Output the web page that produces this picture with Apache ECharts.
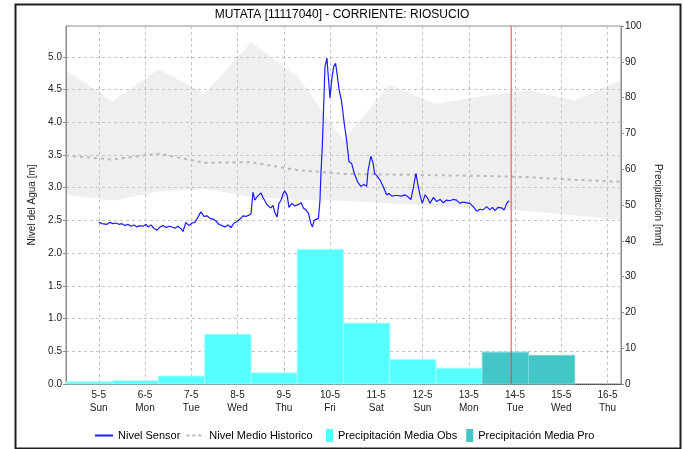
<!DOCTYPE html>
<html>
<head>
<meta charset="utf-8">
<script src="https://cdn.jsdelivr.net/npm/echarts@6/dist/echarts.min.js"></script>
<style>
  html, body { margin: 0; padding: 0; background: #fff; }
  #chart { width: 684px; height: 449px; }
</style>
</head>
<body>
<div id="chart"></div>
<script>
// Station
const stationTitle = 'MUTATA [11117040] - CORRIENTE: RIOSUCIO';

// Water level from the sensor: hours after 2024-05-05 00:00 and level [m]
const sensorHours = [
  0, 1.7, 2.7, 4.3, 5.8, 7.4, 8.9, 10.5, 12.0, 13.6, 15.2, 16.7, 18.3, 19.8, 21.4, 23.0,
  24.5, 25.5, 27.1, 28.6, 30.2, 31.8, 33.3, 34.9, 36.4, 38.0, 39.5, 41.1, 42.7, 43.7, 45.2, 46.8,
  48.4, 49.9, 51.5, 53.0, 54.6, 56.2, 57.7, 59.3, 60.8, 62.4, 63.9, 65.5, 67.0, 68.6, 70.2, 71.7,
  73.3, 74.8, 76.4, 77.9, 79.0, 80.0, 81.0, 82.1, 83.1, 84.2, 85.2, 86.2, 87.3, 88.3, 89.3, 90.4,
  91.4, 92.5, 93.5, 94.5, 95.6, 96.4, 97.7, 98.7, 100.3, 101.8, 103.4, 105.0, 106.2, 107.5, 108.8, 110.1,
  110.9, 111.7, 112.7, 114.0, 114.8, 115.3, 116.0, 116.7, 117.4, 118.4, 119.1, 120.0, 120.9, 121.9, 122.9, 123.6,
  124.6, 126.0, 127.4, 128.6, 129.8, 131.2, 132.6, 134.3, 136.0, 137.6, 139.0, 139.8, 141.2, 142.4, 143.1, 144.4,
  145.9, 147.5, 149.4, 150.6, 152.1, 153.7, 155.3, 156.8, 158.9, 160.4, 162.0, 163.2, 164.6, 165.5, 166.7, 167.9,
  169.3, 170.7, 171.9, 173.6, 175.3, 177.1, 178.8, 180.5, 182.2, 183.8, 185.7, 187.4, 189.0, 190.5, 192.6, 194.3,
  196.1, 197.8, 199.4, 201.3, 203.0, 204.3, 205.6, 207.1, 209.1, 210.4, 211.7, 212.9
];
const sensorLevel = [
  2.47, 2.45, 2.48, 2.44, 2.47, 2.45, 2.46, 2.44, 2.45, 2.42, 2.44, 2.41, 2.43, 2.40, 2.42, 2.41,
  2.44, 2.40, 2.43, 2.38, 2.35, 2.40, 2.42, 2.39, 2.41, 2.40, 2.38, 2.41, 2.37, 2.33, 2.47, 2.42,
  2.46, 2.47, 2.55, 2.63, 2.56, 2.57, 2.53, 2.52, 2.49, 2.44, 2.42, 2.40, 2.43, 2.39, 2.46, 2.48,
  2.52, 2.57, 2.56, 2.58, 2.60, 2.93, 2.81, 2.86, 2.84, 2.92, 2.85, 2.80, 2.74, 2.71, 2.69, 2.73,
  2.62, 2.55, 2.76, 2.80, 2.90, 2.95, 2.89, 2.70, 2.76, 2.72, 2.74, 2.77, 2.69, 2.66, 2.61, 2.45,
  2.40, 2.50, 2.51, 2.53, 2.81, 3.22, 3.63, 4.24, 4.85, 4.98, 4.70, 4.37, 4.65, 4.85, 4.90, 4.75,
  4.52, 4.32, 3.98, 3.73, 3.40, 3.37, 3.22, 3.09, 3.02, 3.05, 3.02, 3.27, 3.48, 3.37, 3.22, 3.18,
  3.12, 3.02, 2.89, 2.91, 2.87, 2.88, 2.88, 2.87, 2.89, 2.86, 2.82, 2.99, 3.22, 3.06, 2.89, 2.76,
  2.89, 2.84, 2.76, 2.85, 2.79, 2.82, 2.77, 2.81, 2.80, 2.82, 2.81, 2.76, 2.78, 2.77, 2.76, 2.71,
  2.64, 2.67, 2.66, 2.71, 2.66, 2.70, 2.65, 2.70, 2.69, 2.66, 2.76, 2.80
];

// Historic statistics, one value per day at 07:00 (day of May)
const histDay   = [4, 5, 6, 7, 8, 9, 10, 11, 12, 13, 14, 15, 16];
const histUpper = [4.80, 4.32, 4.81, 4.44, 5.22, 4.70, 3.73, 4.57, 4.28, 4.40, 4.49, 4.33, 4.65];
const histLower = [2.89, 2.80, 2.94, 2.98, 2.86, 2.81, 2.80, 2.76, 2.72, 2.68, 2.64, 2.58, 2.51];
const histMean  = [3.49, 3.43, 3.52, 3.38, 3.39, 3.27, 3.21, 3.20, 3.19, 3.18, 3.16, 3.12, 3.09];

// Daily rainfall [mm], accumulated from 07:00 of the given day of May to 07:00 the next day
const rainObsDay = [4, 5, 6, 7, 8, 9, 10, 11, 12];
const rainObs    = [0.6, 0.9, 2.2, 13.9, 3.1, 37.6, 17.0, 6.8, 4.4];
const rainProDay = [13, 14];
const rainPro    = [8.9, 8.0];

// Axis labels
const weekdayNames = ['Sun', 'Mon', 'Tue', 'Wed', 'Thu', 'Fri', 'Sat'];
const levelAxisName = 'Nivel del Agua [m]';
const rainAxisName = 'Precipitación [mm]';

const HOUR = 3600000;
const DAY = 24 * HOUR;
const sensorOrigin = new Date(2024, 4, 5, 0, 0).getTime();
const may = (d, h) => new Date(2024, 4, d, h || 0, 0).getTime();
const nowTime = may(13, 22);
const axisStart = may(4, 7);
const axisEnd = may(16, 7);

const sensorData = sensorHours.map((h, i) => [sensorOrigin + h * HOUR, sensorLevel[i]]);
const lowerData = histDay.map((d, i) => [may(d, 7), histLower[i]]);
const spanData = histDay.map((d, i) => [may(d, 7), +(histUpper[i] - histLower[i]).toFixed(3)]);
const meanData = histDay.map((d, i) => [may(d, 7), histMean[i]]);
const obsData = rainObsDay.map((d, i) => [may(d, 7), may(d, 7) + DAY, rainObs[i]]);
const proData = rainProDay.map((d, i) => [may(d, 7), may(d, 7) + DAY, rainPro[i]]);
const nowLine = [[nowTime, 0], [nowTime, 100]];

const FONT = "'Liberation Sans', Arial, sans-serif";
const OBS_COLOR = '#55ffff';
const PRO_COLOR = '#45c6c6';
const SENSOR_COLOR = '#1a1aff';
const MEAN_COLOR = '#b8b8b8';

// legend glyphs: a solid stroke and a dotted stroke
const solidIcon = 'path://M0,0h18v2h-18z';
const dottedIcon = 'path://M0,0h3v2h-3z M6,0h3v2h-3z M12,0h3v2h-3z M18,0h0v2h0z';

function rainBar(fill, edge) {
  return function (params, api) {
    const top = api.coord([api.value(0), api.value(2)]);
    const base = api.coord([api.value(1), 0]);
    return {
      type: 'rect',
      shape: { x: top[0], y: top[1], width: base[0] - top[0], height: base[1] - top[1] },
      style: { fill: fill, stroke: edge, lineWidth: 1 }
    };
  };
}

const chart = echarts.init(document.getElementById('chart'), null, { renderer: 'canvas' });
chart.setOption({
  animation: false,
  backgroundColor: '#ffffff',
  textStyle: { fontFamily: FONT },
  title: {
    text: stationTitle,
    left: 'center',
    top: 4,
    textStyle: { fontSize: 12, fontWeight: 'normal', color: '#000', fontFamily: FONT }
  },
  legend: [
    {
      data: [
        { name: 'Nivel Sensor', icon: solidIcon, itemStyle: { color: SENSOR_COLOR } },
        { name: 'Nivel Medio Historico', icon: dottedIcon, itemStyle: { color: MEAN_COLOR } }
      ],
      left: 90, top: 424,
      itemWidth: 18, itemHeight: 2, itemGap: 6,
      textStyle: { fontSize: 11, color: '#000', fontFamily: FONT, lineHeight: 13 }
    },
    {
      data: [
        { name: 'Precipitación Media Obs', icon: 'rect' },
        { name: 'Precipitación Media Pro', icon: 'rect' }
      ],
      left: 321, top: 424,
      itemWidth: 7, itemHeight: 13, itemGap: 9,
      textStyle: { fontSize: 11, color: '#000', fontFamily: FONT, lineHeight: 13 }
    }
  ],
  grid: {
    left: 66, right: 63, top: 26, bottom: 65,
    show: true, borderColor: '#8c8c8c', borderWidth: 1, backgroundColor: 'transparent'
  },
  xAxis: {
    type: 'time',
    min: axisStart,
    max: axisEnd,
    minInterval: DAY,
    maxInterval: DAY,
    axisLine: { show: true, lineStyle: { color: '#444', width: 1, type: [1, 1] } },
    axisTick: { show: false },
    splitLine: { show: true, lineStyle: { color: '#c4c4c4', type: [3, 3], width: 1 } },
    axisLabel: {
      color: '#222', fontSize: 10, fontFamily: FONT, lineHeight: 13, margin: 5,
      showMinLabel: false, showMaxLabel: false,
      formatter: function (value) {
        const d = new Date(value);
        if (d.getHours() !== 0 || d.getMinutes() !== 0) return '';
        return d.getDate() + '-' + (d.getMonth() + 1) + '\n' + weekdayNames[d.getDay()];
      }
    }
  },
  yAxis: [
    {
      type: 'value',
      min: 0, max: 5.47, interval: 0.5,
      name: levelAxisName,
      nameLocation: 'middle',
      nameGap: 24,
      nameTextStyle: { fontSize: 10, color: '#222', fontFamily: FONT },
      axisLine: { show: true, lineStyle: { color: '#8c8c8c' } },
      axisTick: { show: true, length: 3, lineStyle: { color: '#8c8c8c' } },
      axisLabel: {
        color: '#222', fontSize: 10, margin: 4, fontFamily: FONT, showMaxLabel: false,
        formatter: function (v) { return Math.abs(v / 0.5 - Math.round(v / 0.5)) < 1e-6 ? v.toFixed(1) : ''; }
      },
      splitLine: { show: true, lineStyle: { color: '#c4c4c4', type: [3, 3], width: 1 } }
    },
    {
      type: 'value',
      min: 0, max: 100, interval: 10,
      position: 'right',
      name: rainAxisName,
      nameLocation: 'middle',
      nameRotate: -90,
      nameGap: 26,
      nameTextStyle: { fontSize: 10, color: '#222', fontFamily: FONT },
      axisLine: { show: true, lineStyle: { color: '#8c8c8c' } },
      axisTick: { show: true, length: 3, lineStyle: { color: '#8c8c8c' } },
      axisLabel: { color: '#222', fontSize: 10, margin: 4, fontFamily: FONT },
      splitLine: { show: false }
    }
  ],
  series: [
    {
      name: 'histLower',
      type: 'line',
      data: lowerData,
      stack: 'band',
      symbol: 'none',
      lineStyle: { width: 0, opacity: 0 },
      z: -1,
      silent: true
    },
    {
      name: 'histSpan',
      type: 'line',
      data: spanData,
      stack: 'band',
      symbol: 'none',
      lineStyle: { width: 0, opacity: 0 },
      areaStyle: { color: '#efefef', opacity: 1 },
      z: -1,
      silent: true
    },
    {
      name: 'Precipitación Media Obs',
      type: 'custom',
      yAxisIndex: 1,
      data: obsData,
      encode: { x: [0, 1], y: 2 },
      itemStyle: { color: OBS_COLOR },
      renderItem: rainBar(OBS_COLOR, '#9ffcfc'),
      z: 2
    },
    {
      name: 'Precipitación Media Pro',
      type: 'custom',
      yAxisIndex: 1,
      data: proData,
      encode: { x: [0, 1], y: 2 },
      itemStyle: { color: PRO_COLOR },
      renderItem: rainBar(PRO_COLOR, '#7ad6d6'),
      z: 2
    },
    {
      name: 'Nivel Medio Historico',
      type: 'line',
      data: meanData,
      symbol: 'none',
      color: MEAN_COLOR,
      lineStyle: { color: MEAN_COLOR, width: 2, type: [3, 4] },
      z: 3
    },
    {
      name: 'Nivel Sensor',
      type: 'line',
      data: sensorData,
      symbol: 'none',
      color: SENSOR_COLOR,
      lineStyle: { color: SENSOR_COLOR, width: 1.2 },
      z: 4
    },
    {
      name: 'now',
      type: 'line',
      yAxisIndex: 1,
      data: nowLine,
      symbol: 'none',
      color: '#e04848',
      lineStyle: { color: '#e04848', width: 1 },
      silent: true,
      z: 5
    }
  ],
  graphic: [
    {
      type: 'rect',
      left: 13, top: 2,
      shape: { width: 665, height: 444 },
      style: { fill: 'none', stroke: '#1e1e1e', lineWidth: 2 },
      z: 100
    }
  ]
});
</script>
</body>
</html>
